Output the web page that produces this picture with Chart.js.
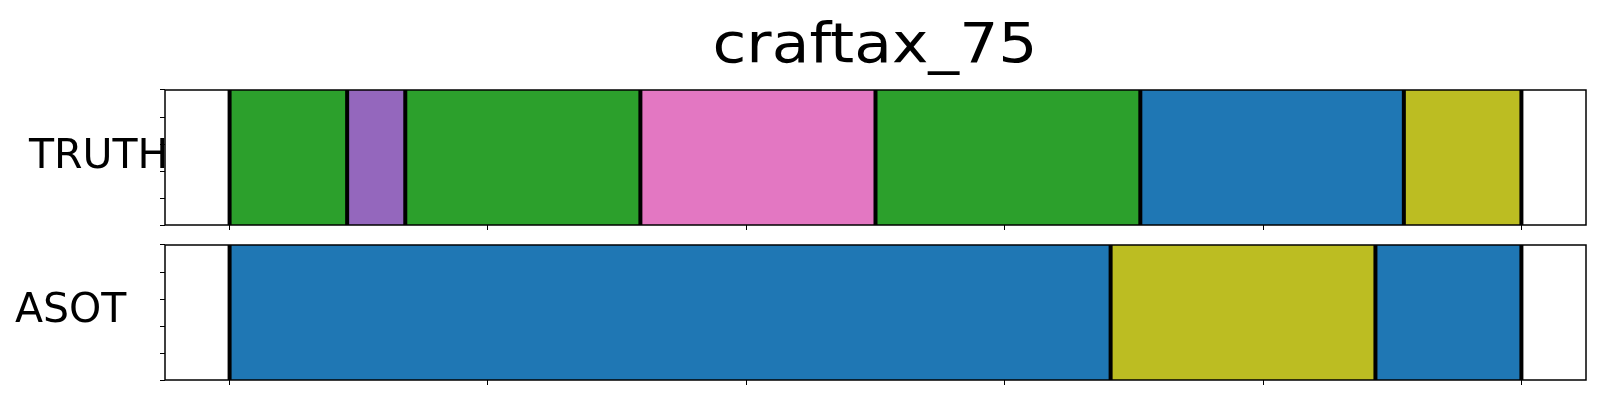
<!DOCTYPE html>
<html>
<head>
<meta charset="utf-8">
<script src="https://cdn.jsdelivr.net/npm/chart.js@4"></script>
<style>
    body { margin: 0; background: #fff; }
    #page { position: relative; width: 1600px; height: 400px; overflow: hidden; font-family: "DejaVu Sans", sans-serif; color: #000; }
    .box { position: absolute; left: 0; width: 1600px; height: 155px; }
    .title { position: absolute; top: 16px; left: 875px; font-size: 55px; line-height: 55px; white-space: nowrap; transform: translateX(-50%) scaleX(1.12); }
    .lbl { position: absolute; font-size: 41px; line-height: 41px; white-space: nowrap; }
</style>
</head>
<body>
<div id="page">
    <div class="box" style="top:80px"><canvas id="truthChart" width="1600" height="155"></canvas></div>
    <div class="box" style="top:235px"><canvas id="asotChart" width="1600" height="155"></canvas></div>
    <div class="title">craftax_75</div>
    <div class="lbl" style="left:29px; top:134px">TRUTH</div>
    <div class="lbl" style="left:15px; top:288px">ASOT</div>
</div>
<script>
// segment boundaries (frame index) and class of each segment
const truthBounds = [0, 91, 136, 318, 500, 705, 909, 1000];
const truthClasses = [2, 4, 2, 6, 2, 0, 8];
const asotBounds = [0, 682, 887, 1000];
const asotClasses = [0, 8, 0];

// axis ticks (labels hidden in the original)
const xTicks = [0, 200, 400, 600, 800, 1000];
const yTicks = [0, 0.25, 0.5, 0.75, 1];

// matplotlib tab10
const palette = ['#1f77b4', '#ff7f0e', '#2ca02c', '#d62728', '#9467bd',
                 '#8c564b', '#e377c2', '#7f7f7f', '#bcbd22', '#17becf'];

// black boundary lines + frame round the axes
const segLines = {
    id: 'segLines',
    afterDatasetsDraw(chart, args, opts) {
        const ctx = chart.ctx;
        const area = chart.chartArea;
        const x = chart.scales.x;
        ctx.save();
        ctx.strokeStyle = '#000';
        ctx.lineWidth = 4;
        opts.bounds.forEach(function(b) {
            const px = x.getPixelForValue(b);
            ctx.beginPath();
            ctx.moveTo(px, area.top);
            ctx.lineTo(px, area.bottom);
            ctx.stroke();
        });
        ctx.lineWidth = 1.5;
        ctx.strokeRect(area.left, area.top, area.right - area.left, area.bottom - area.top);
        ctx.restore();
    }
};

function makeChart(id, bounds, classes) {
    const datasets = classes.map(function(c, i) {
        return {
            data: [[bounds[i], bounds[i + 1]]],
            backgroundColor: palette[c],
            borderWidth: 0,
            grouped: false,
            barPercentage: 1,
            categoryPercentage: 1
        };
    });
    const tickGrid = {
        display: true,
        drawOnChartArea: false,
        drawTicks: true,
        tickLength: 5,
        color: '#000',
        lineWidth: 1
    };
    return new Chart(document.getElementById(id), {
        type: 'bar',
        data: { labels: [''], datasets: datasets },
        options: {
            indexAxis: 'y',
            responsive: false,
            devicePixelRatio: 1,
            animation: false,
            layout: { padding: { left: 165, right: 14, top: 10, bottom: 10 } },
            plugins: {
                legend: { display: false },
                tooltip: { enabled: false },
                segLines: { bounds: bounds }
            },
            scales: {
                x: {
                    type: 'linear',
                    position: 'bottom',
                    min: -50,
                    max: 1050,
                    grid: tickGrid,
                    border: { display: false },
                    ticks: { display: false },
                    afterBuildTicks: function(s) { s.ticks = xTicks.map(v => ({ value: v })); },
                    afterFit: function(s) { s.height = 0; }
                },
                y: { display: false },
                yt: {
                    type: 'linear',
                    position: 'left',
                    min: 0,
                    max: 1,
                    grid: tickGrid,
                    border: { display: false },
                    ticks: { display: false },
                    afterBuildTicks: function(s) { s.ticks = yTicks.map(v => ({ value: v })); },
                    afterFit: function(s) { s.width = 0; }
                }
            }
        },
        plugins: [segLines]
    });
}

makeChart('truthChart', truthBounds, truthClasses);
makeChart('asotChart', asotBounds, asotClasses);
</script>
</body>
</html>
